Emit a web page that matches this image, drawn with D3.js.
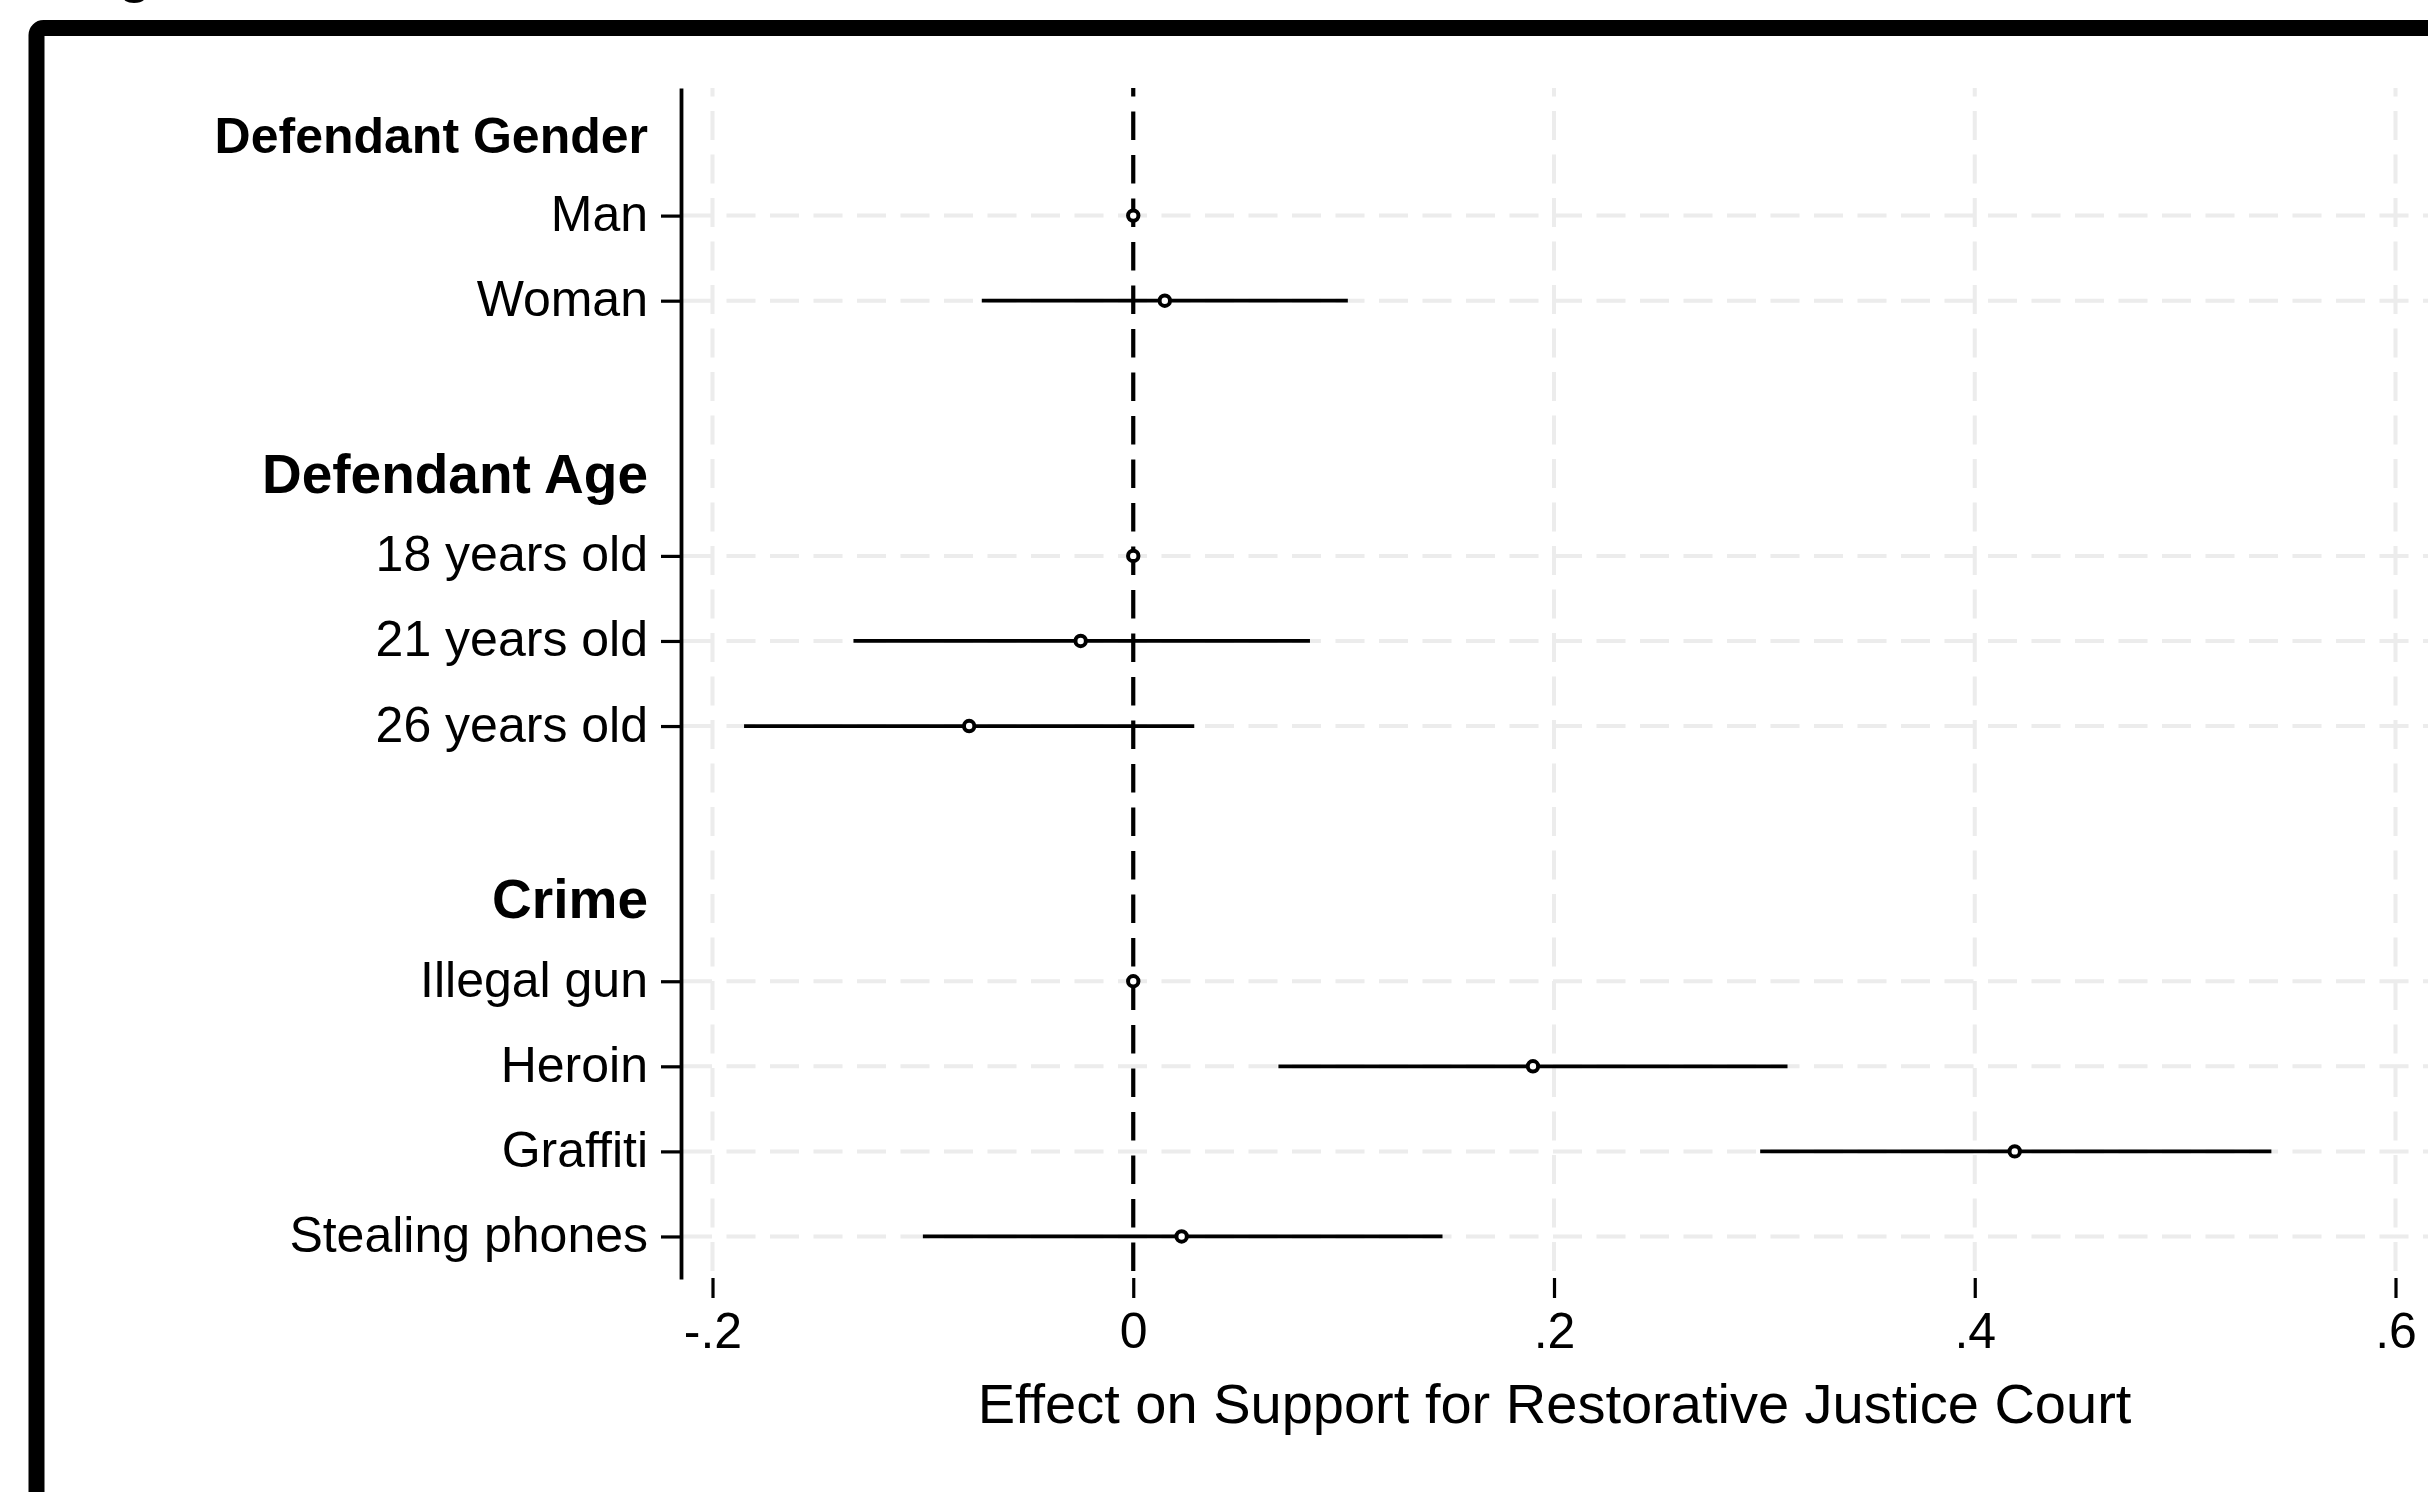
<!DOCTYPE html>
<html>
<head>
<meta charset="utf-8">
<script src="https://cdn.jsdelivr.net/npm/d3@7"></script>
<style>
  html, body { margin: 0; padding: 0; background: #fff; }
  svg { display: block; }
  text { font-family: "Liberation Sans", Arial, Helvetica, sans-serif; fill: #000; }
</style>
</head>
<body>
<script>
// ---- Data ----
const groupNames = ["Defendant Gender", "Defendant Age", "Crime"];
const groupLevels = [
  ["Man", "Woman"],
  ["18 years old", "21 years old", "26 years old"],
  ["Illegal gun", "Heroin", "Graffiti", "Stealing phones"]
];
const estimates = [0, 0.015, 0, -0.025, -0.078, 0, 0.190, 0.419, 0.023];
const ciLow     = [0, -0.072, 0, -0.133, -0.185, 0, 0.069, 0.298, -0.100];
const ciHigh    = [0, 0.102, 0, 0.084, 0.029, 0, 0.311, 0.541, 0.147];
const xTickValues = [-0.2, 0, 0.2, 0.4, 0.6];
const xTickLabels = ["-.2", "0", ".2", ".4", ".6"];
const xTitle = "Effect on Support for Restorative Justice Court";

// ---- Build row layout (header, levels, blank spacer) ----
const headerRows = [];
const levelRows = [];
let r = 0, k = 0;
groupNames.forEach((g, gi) => {
  headerRows.push({ name: g, row: r, big: gi > 0 });
  r++;
  groupLevels[gi].forEach(l => {
    levelRows.push({ label: l, row: r, est: estimates[k], lo: ciLow[k], hi: ciHigh[k] });
    r++; k++;
  });
  if (gi < groupNames.length - 1) r++;
});
const nRows = r; // 14

const W = 2428, H = 1492;
const svg = d3.select("body").append("svg").attr("width", W).attr("height", H);

svg.append("rect").attr("width", W).attr("height", H).attr("fill", "#fff");

// Outer frame
svg.append("rect")
  .attr("x", 36.5).attr("y", 28)
  .attr("width", 2600).attr("height", 1700)
  .attr("rx", 7)
  .attr("fill", "none").attr("stroke", "#000").attr("stroke-width", 16);

// cropped title remnant at top (only its descender is visible in the reference)
svg.append("text").attr("x", 69).attr("y", -9)
  .attr("font-size", 55).attr("font-weight", "bold").text("Figure");

const plotTop = 88, plotBottom = 1279, axisX = 681, plotRight = 2428;

const x = d3.scaleLinear().domain([-0.2, 0.6]).range([712.5, 2395.5]);
const y = d3.scaleLinear().domain([-0.5, nRows - 0.5]).range([plotTop, plotBottom]);

const gridColor = "#ececec";
const dash = "29,14.5";

// Horizontal gridlines
svg.append("g").selectAll("line").data(levelRows).join("line")
  .attr("x1", axisX + 2).attr("x2", plotRight)
  .attr("y1", d => y(d.row)).attr("y2", d => y(d.row))
  .attr("stroke", gridColor).attr("stroke-width", 4)
  .attr("stroke-dasharray", dash);

// Vertical gridlines
svg.append("g").selectAll("line").data(xTickValues.filter(v => v !== 0)).join("line")
  .attr("x1", d => x(d)).attr("x2", d => x(d))
  .attr("y1", plotTop).attr("y2", plotBottom)
  .attr("stroke", gridColor).attr("stroke-width", 4)
  .attr("stroke-dasharray", dash).attr("stroke-dashoffset", 20.5);

// Zero reference line
svg.append("line")
  .attr("x1", x(0)).attr("x2", x(0))
  .attr("y1", plotTop).attr("y2", plotBottom)
  .attr("stroke", "#000").attr("stroke-width", 4.2)
  .attr("stroke-dasharray", "28.5,15").attr("stroke-dashoffset", 20);

// Y axis
const yAxis = d3.axisLeft(y)
  .tickValues(levelRows.map(d => d.row))
  .tickFormat(v => levelRows.find(d => d.row === v).label)
  .tickSize(20).tickSizeOuter(0).tickPadding(13);
const gy = svg.append("g").attr("transform", `translate(${axisX},0)`).call(yAxis);
gy.select(".domain").attr("stroke", "#000").attr("stroke-width", 3.8);
gy.selectAll(".tick line").attr("stroke", "#000").attr("stroke-width", 3.2);
gy.selectAll(".tick text")
  .attr("font-size", 50).attr("font-family", null)
  .attr("dy", null).attr("y", 15).attr("fill", "#000");

// Group headers
svg.append("g").selectAll("text").data(headerRows).join("text")
  .attr("x", axisX - 33)
  .attr("y", d => y(d.row) + 22)
  .attr("text-anchor", "end")
  .attr("font-weight", "bold")
  .attr("font-size", d => d.big ? 55 : 50)
  .text(d => d.name);

// X axis (ticks only)
const xAxis = d3.axisBottom(x)
  .tickValues(xTickValues)
  .tickFormat((v, i) => xTickLabels[i])
  .tickSize(20).tickSizeOuter(0);
const gx = svg.append("g").attr("transform", `translate(0,1278)`).call(xAxis);
gx.select(".domain").remove();
gx.selectAll(".tick line").attr("stroke", "#000").attr("stroke-width", 3.2);
gx.selectAll(".tick text")
  .attr("font-size", 50).attr("font-family", null)
  .attr("dy", null).attr("y", 70).attr("fill", "#000");

// X title
svg.append("text")
  .attr("x", (axisX + plotRight) / 2).attr("y", 1423)
  .attr("text-anchor", "middle").attr("font-size", 56)
  .text(xTitle);

// CI lines
svg.append("g").selectAll("line").data(levelRows.filter(d => d.hi !== d.lo)).join("line")
  .attr("x1", d => x(d.lo)).attr("x2", d => x(d.hi))
  .attr("y1", d => y(d.row)).attr("y2", d => y(d.row))
  .attr("stroke", "#000").attr("stroke-width", 3.8);

// Point estimates
svg.append("g").selectAll("circle").data(levelRows).join("circle")
  .attr("cx", d => x(d.est)).attr("cy", d => y(d.row))
  .attr("r", 5.2)
  .attr("fill", "#fff").attr("stroke", "#000").attr("stroke-width", 4);
</script>
</body>
</html>
